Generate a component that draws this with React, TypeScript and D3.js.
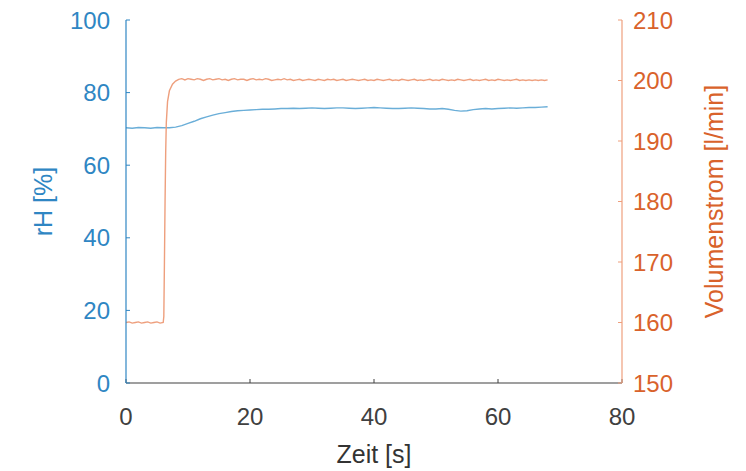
import React from "react";
import * as d3 from "d3";

const rhTime = [0,1,2,3,4,5,6,7,8,9,10,11,12,13,14,15,16,17,18,19,20,21,22,23,24,25,26,27,28,29,30,31,32,33,34,35,36,37,38,39,40,41,42,43,44,45,46,47,48,49,50,51,52,53,54,55,56,57,58,59,60,61,62,63,64,65,66,67,68];
const rhValues = [70.3,70.2,70.4,70.3,70.2,70.4,70.3,70.3,70.5,70.9,71.5,72.1,72.8,73.3,73.8,74.2,74.5,74.8,75.0,75.1,75.2,75.3,75.4,75.4,75.5,75.6,75.6,75.7,75.6,75.7,75.8,75.7,75.6,75.7,75.8,75.8,75.7,75.6,75.7,75.8,75.9,75.8,75.7,75.6,75.6,75.7,75.8,75.7,75.6,75.5,75.5,75.6,75.4,75.1,74.9,75.0,75.3,75.5,75.6,75.5,75.6,75.7,75.8,75.7,75.8,75.9,75.9,76.0,76.1];

const flowTime = [0,0.5,1,1.5,2,2.5,3,3.5,4,4.5,5,5.5,6,6.1,6.2,6.3,6.4,6.5,6.7,7,7.5,8,8.5,9,9.5,10,10.5,11,11.5,12,12.5,13,13.5,14,14.5,15,15.5,16,16.5,17,17.5,18,18.5,19,19.5,20,20.5,21,21.5,22,22.5,23,23.5,24,24.5,25,25.5,26,26.5,27,27.5,28,28.5,29,29.5,30,30.5,31,31.5,32,32.5,33,33.5,34,34.5,35,35.5,36,36.5,37,37.5,38,38.5,39,39.5,40,40.5,41,41.5,42,42.5,43,43.5,44,44.5,45,45.5,46,46.5,47,47.5,48,48.5,49,49.5,50,50.5,51,51.5,52,52.5,53,53.5,54,54.5,55,55.5,56,56.5,57,57.5,58,58.5,59,59.5,60,60.5,61,61.5,62,62.5,63,63.5,64,64.5,65,65.5,66,66.5,67,67.5,68];
const flowValues = [160.0,160.1,159.9,160.0,160.1,159.9,160.0,160.1,159.9,160.0,160.1,159.9,160.0,161.0,170.0,180.0,188.0,193.0,196.5,198.3,199.4,199.9,200.2,200.3,200.1,200.3,200.2,200.1,200.3,200.2,200.0,200.2,200.3,200.1,200.2,200.3,200.1,200.2,200.0,200.2,200.3,200.1,200.2,200.2,200.0,200.2,200.3,200.1,200.2,200.1,200.3,200.2,200.0,200.1,200.2,200.1,200.3,200.1,200.2,200.0,200.1,200.2,200.0,200.1,200.2,200.1,200.0,200.2,200.1,200.0,200.2,200.1,200.2,200.0,200.1,200.2,200.0,200.1,200.2,200.1,200.0,200.1,200.2,200.0,200.1,200.0,200.2,200.1,200.0,200.1,200.2,200.0,200.1,200.0,200.2,200.1,200.0,200.1,200.2,200.0,200.1,200.0,200.1,200.2,200.0,200.1,200.0,200.2,200.1,200.0,200.1,200.0,200.2,200.1,200.0,200.1,200.2,200.0,200.1,200.0,200.1,200.2,200.0,200.1,200.0,200.2,200.1,200.0,200.1,200.0,200.1,200.2,200.0,200.1,200.0,200.1,200.0,200.1,200.0,200.1,200.0,200.1];

const xTicks = [0, 20, 40, 60, 80];
const leftTicks = [0, 20, 40, 60, 80, 100];
const rightTicks = [150, 160, 170, 180, 190, 200, 210];

const W = 746, H = 471;
const M = { left: 126, right: 622, top: 20, bottom: 383 };
const BLUE_TEXT = "#2f86c3";
const BLUE_LINE = "#6aaed8";
const ORANGE_TEXT = "#d9622b";
const ORANGE_LINE = "#ee9f7d";
const GRAY = "#404040";
const FONT = "'Liberation Sans', Arial, Helvetica, sans-serif";

function zip(t: number[], v: number[]): [number, number][] {
  const n = Math.min(t.length, v.length);
  const out: [number, number][] = [];
  for (let i = 0; i < n; i++) out.push([t[i], v[i]]);
  return out;
}

export default function App() {
  const x = d3.scaleLinear().domain([0, 80]).range([M.left, M.right]);
  const yL = d3.scaleLinear().domain([0, 100]).range([M.bottom, M.top]);
  const yR = d3.scaleLinear().domain([150, 210]).range([M.bottom, M.top]);

  const rhLine = d3.line<[number, number]>().x((d) => x(d[0])).y((d) => yL(d[1]));
  const flowLine = d3.line<[number, number]>().x((d) => x(d[0])).y((d) => yR(d[1]));

  const fs = 24;
  return (
    <svg width={W} height={H} style={{ position: "absolute", left: 0, top: 0, background: "#fff" }} fontFamily={FONT}>
      <rect x={0} y={0} width={W} height={H} fill="#fff" />
      <path d={rhLine(zip(rhTime, rhValues)) || ""} fill="none" stroke={BLUE_LINE} strokeWidth={1.4} />
      <path d={flowLine(zip(flowTime, flowValues)) || ""} fill="none" stroke={ORANGE_LINE} strokeWidth={1.4} />

      <line x1={M.left} x2={M.right} y1={M.bottom} y2={M.bottom} stroke={GRAY} strokeWidth={1.2} />
      {xTicks.map((t) => (
        <g key={"x" + t}>
          <line x1={x(t)} x2={x(t)} y1={M.bottom} y2={M.bottom - 4} stroke={GRAY} strokeWidth={1} />
          <text x={x(t)} y={425} textAnchor="middle" fontSize={fs} fill={GRAY}>{t}</text>
        </g>
      ))}
      <text x={(M.left + M.right) / 2} y={463} textAnchor="middle" fontSize={25} fill="#333">Zeit [s]</text>

      <line x1={M.left} x2={M.left} y1={M.top} y2={M.bottom} stroke={BLUE_TEXT} strokeWidth={1.2} />
      {leftTicks.map((t) => (
        <g key={"l" + t}>
          <line x1={M.left} x2={M.left + 4} y1={yL(t)} y2={yL(t)} stroke={BLUE_TEXT} strokeWidth={1} />
          <text x={110} y={yL(t)} dy="0.36em" textAnchor="end" fontSize={fs} fill={BLUE_TEXT}>{t}</text>
        </g>
      ))}
      <text transform={`translate(52,${(M.top + M.bottom) / 2}) rotate(-90)`} textAnchor="middle" fontSize={25} fill={BLUE_TEXT}>rH [%]</text>

      <line x1={M.right} x2={M.right} y1={M.top} y2={M.bottom} stroke={ORANGE_LINE} strokeWidth={1.2} />
      {rightTicks.map((t) => (
        <g key={"r" + t}>
          <line x1={M.right} x2={M.right - 4} y1={yR(t)} y2={yR(t)} stroke={ORANGE_LINE} strokeWidth={1} />
          <text x={633} y={yR(t)} dy="0.36em" textAnchor="start" fontSize={fs} fill={ORANGE_TEXT}>{t}</text>
        </g>
      ))}
      <text transform={`translate(723,${(M.top + M.bottom) / 2}) rotate(-90)`} textAnchor="middle" fontSize={25} fill={ORANGE_TEXT}>Volumenstrom [l/min]</text>
    </svg>
  );
}
